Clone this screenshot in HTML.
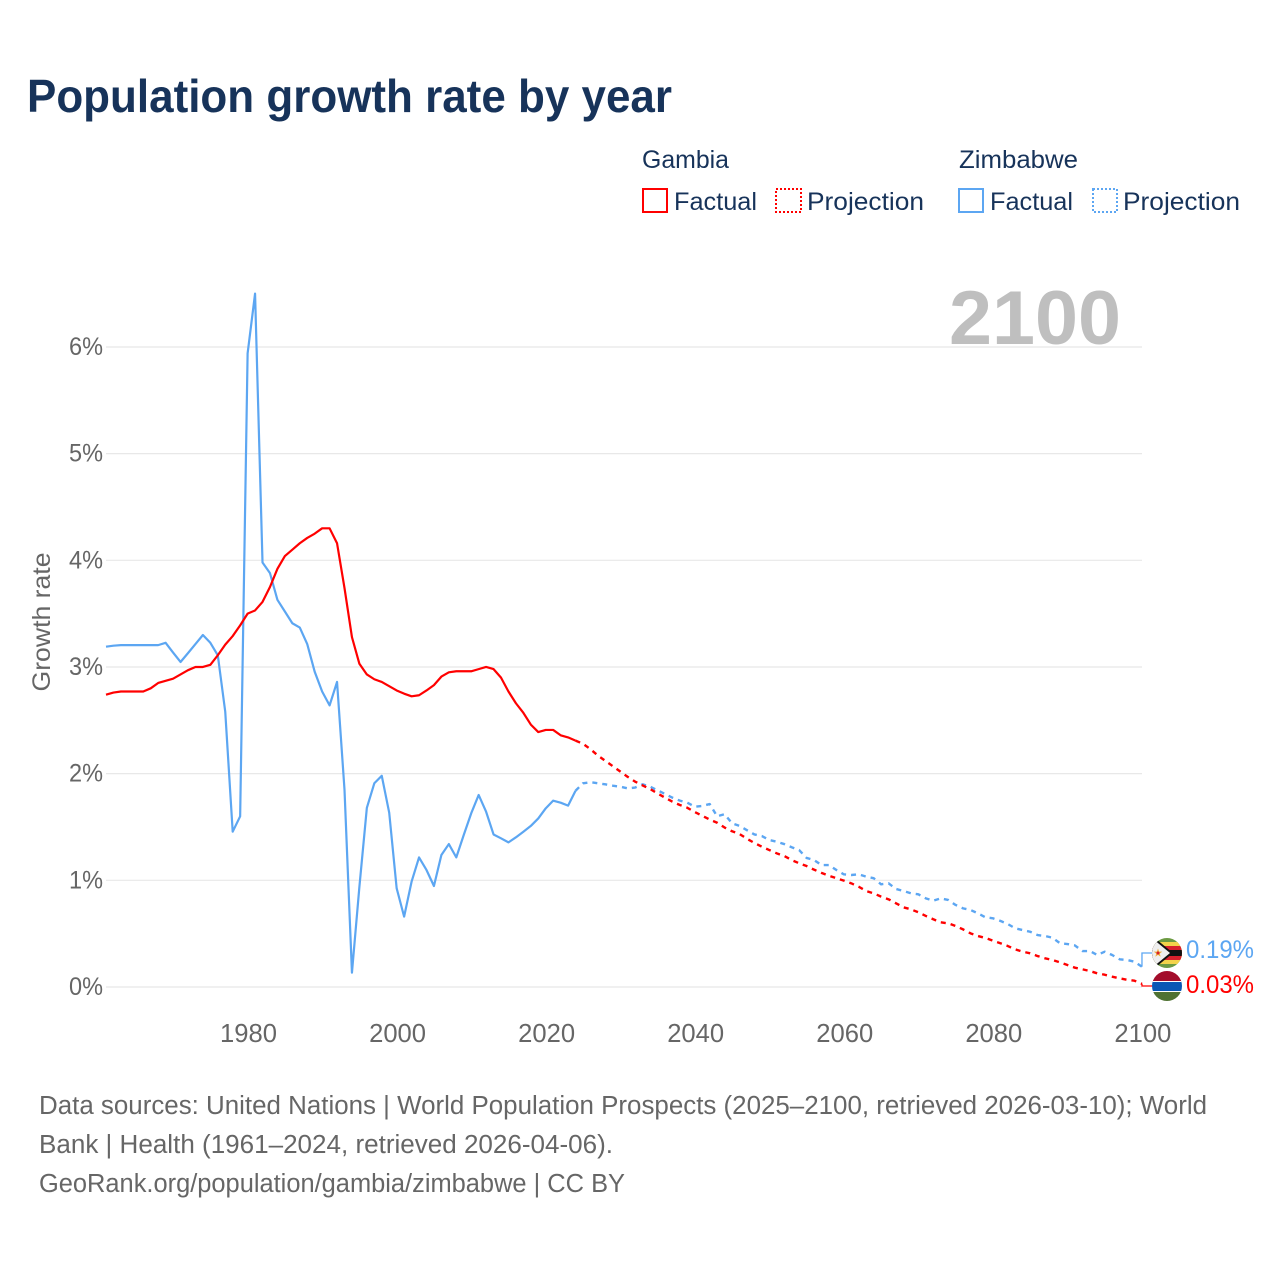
<!DOCTYPE html>
<html lang="en">
<head>
<meta charset="utf-8">
<title>Population growth rate by year</title>
<style>
html,body{margin:0;padding:0;background:#fff;width:1280px;height:1280px;overflow:hidden}
svg{display:block;font-family:"Liberation Sans",sans-serif}
</style>
</head>
<body>
<svg id="chart" width="1280" height="1280" viewBox="0 0 1280 1280" xmlns="http://www.w3.org/2000/svg">
<defs>
<clipPath id="clip-zw"><circle cx="1167" cy="953" r="15"/></clipPath>
<clipPath id="clip-gm"><circle cx="1167" cy="986" r="15"/></clipPath>
</defs>
<rect width="1280" height="1280" fill="#fff"/>
<text x="27" y="112" font-size="46" font-weight="700" fill="#17335a" textLength="645" lengthAdjust="spacingAndGlyphs">Population growth rate by year</text>

<g font-size="25" fill="#17335a">
<text x="642" y="168" textLength="87" lengthAdjust="spacingAndGlyphs">Gambia</text>
<text x="959" y="168" textLength="119" lengthAdjust="spacingAndGlyphs">Zimbabwe</text>
<rect x="643" y="189" width="24" height="23" fill="none" stroke="#ff0000" stroke-width="2"/>
<text x="674" y="210" textLength="83" lengthAdjust="spacingAndGlyphs">Factual</text>
<rect x="776" y="189" width="25" height="23" fill="none" stroke="#ff0000" stroke-width="2" stroke-dasharray="2 2"/>
<text x="807" y="210" textLength="117" lengthAdjust="spacingAndGlyphs">Projection</text>
<rect x="959" y="189" width="24" height="23" fill="none" stroke="#5ca6f2" stroke-width="2"/>
<text x="990" y="210" textLength="83" lengthAdjust="spacingAndGlyphs">Factual</text>
<rect x="1093" y="189" width="24" height="23" fill="none" stroke="#5ca6f2" stroke-width="2" stroke-dasharray="2 2"/>
<text x="1123" y="210" textLength="117" lengthAdjust="spacingAndGlyphs">Projection</text>
</g>

<g id="grid"></g>
<text x="949" y="344" font-size="76" font-weight="700" fill="#bfbfbf" textLength="172" lengthAdjust="spacingAndGlyphs">2100</text>
<g id="yticks"></g>
<g id="xticks"></g>
<text transform="translate(50,622) rotate(-90)" text-anchor="middle" font-size="25" fill="#666" textLength="139" lengthAdjust="spacingAndGlyphs">Growth rate</text>
<g id="series"></g>

<g clip-path="url(#clip-zw)">
<rect x="1152" y="938" width="30" height="30" fill="#6c9a42"/>
<rect x="1152" y="942" width="30" height="22" fill="#f3d34a"/>
<rect x="1152" y="946" width="30" height="14" fill="#d8202c"/>
<rect x="1152" y="950" width="30" height="6" fill="#111"/>
<polygon points="1150,934 1173,953 1150,972" fill="#111"/>
<polygon points="1150,936.5 1170,953 1150,969.5" fill="#efefef"/>
<polygon points="1158,948.5 1159.1,951.6 1162.3,951.6 1159.7,953.6 1160.7,956.8 1158,954.9 1155.3,956.8 1156.3,953.6 1153.7,951.6 1156.9,951.6" fill="#eeb13c"/>
<circle cx="1158" cy="953" r="1.5" fill="#d8202c"/>
</g>
<g clip-path="url(#clip-gm)">
<rect x="1152" y="971" width="30" height="11" fill="#a30d2b"/>
<rect x="1152" y="981" width="30" height="11" fill="#ffffff"/>
<rect x="1152" y="982" width="30" height="9" fill="#0a57b5"/>
<rect x="1152" y="992" width="30" height="9" fill="#4f7233"/>
</g>
<text id="label-zw" x="1186" y="958" font-size="25" fill="#5ca6f2" textLength="68" lengthAdjust="spacingAndGlyphs"></text>
<text id="label-gm" x="1186" y="993" font-size="25" fill="#ff0000" textLength="68" lengthAdjust="spacingAndGlyphs"></text>

<g font-size="25.5" fill="#666">
<text x="39" y="1114" textLength="1168" lengthAdjust="spacingAndGlyphs">Data sources: United Nations | World Population Prospects (2025–2100, retrieved 2026-03-10); World</text>
<text x="39" y="1153" textLength="574" lengthAdjust="spacingAndGlyphs">Bank | Health (1961–2024, retrieved 2026-04-06).</text>
<text x="39" y="1192" textLength="586" lengthAdjust="spacingAndGlyphs">GeoRank.org/population/gambia/zimbabwe | CC BY</text>
</g>
</svg>
<script>
const yTickValues = [0, 1, 2, 3, 4, 5, 6];
const xTickYears = [1980, 2000, 2020, 2040, 2060, 2080, 2100];
const factualStartYear = 1961;
const projectionStartYear = 2024;
const gambiaFactual = [2.74,2.76,2.77,2.77,2.77,2.77,2.80,2.85,2.87,2.89,2.93,2.97,3.00,3.00,3.02,3.11,3.21,3.29,3.39,3.50,3.53,3.61,3.75,3.92,4.04,4.10,4.16,4.21,4.25,4.30,4.30,4.16,3.74,3.28,3.03,2.93,2.885,2.86,2.82,2.78,2.75,2.725,2.735,2.78,2.83,2.91,2.95,2.96,2.96,2.96,2.98,3.00,2.98,2.90,2.77,2.66,2.57,2.46,2.39,2.41,2.41,2.36,2.34,2.31];
const gambiaProjection = [2.31,2.28,2.23,2.17,2.12,2.07,2.02,1.97,1.925,1.89,1.856,1.815,1.775,1.737,1.706,1.68,1.64,1.605,1.57,1.54,1.495,1.46,1.434,1.39,1.35,1.315,1.284,1.253,1.228,1.19,1.16,1.134,1.10,1.07,1.043,1.02,0.997,0.972,0.94,0.90,0.878,0.847,0.822,0.785,0.747,0.728,0.70,0.666,0.635,0.606,0.597,0.572,0.54,0.503,0.478,0.46,0.434,0.41,0.384,0.353,0.331,0.316,0.29,0.269,0.253,0.231,0.206,0.181,0.166,0.15,0.128,0.115,0.097,0.081,0.068,0.059,0.03];
const zimbabweFactual = [3.19,3.20,3.205,3.205,3.205,3.205,3.205,3.205,3.227,3.135,3.047,3.13,3.215,3.30,3.227,3.11,2.58,1.456,1.60,5.94,6.50,3.98,3.88,3.63,3.52,3.41,3.37,3.215,2.956,2.77,2.64,2.86,1.85,0.134,0.94,1.68,1.91,1.98,1.634,0.925,0.66,0.987,1.215,1.097,0.947,1.237,1.34,1.215,1.425,1.628,1.80,1.643,1.43,1.394,1.356,1.403,1.456,1.51,1.58,1.675,1.747,1.728,1.70,1.84];
const zimbabweProjection = [1.84,1.91,1.92,1.91,1.90,1.887,1.878,1.862,1.87,1.90,1.878,1.844,1.81,1.775,1.747,1.728,1.69,1.697,1.715,1.60,1.62,1.535,1.51,1.47,1.43,1.415,1.378,1.362,1.34,1.31,1.284,1.21,1.19,1.143,1.143,1.097,1.056,1.05,1.056,1.034,1.02,0.963,0.972,0.919,0.90,0.878,0.869,0.831,0.809,0.831,0.816,0.769,0.737,0.722,0.69,0.653,0.644,0.62,0.59,0.55,0.534,0.518,0.487,0.478,0.462,0.41,0.403,0.39,0.337,0.337,0.30,0.331,0.30,0.26,0.253,0.237,0.19];

const NS = 'http://www.w3.org/2000/svg';
const RED = '#ff0000';
const BLUE = '#5ca6f2';
function xScale(year) { return 106 + (year - 1961) * 7.453; }
function yScale(v) { return 987 - v * 106.67; }
function pathFrom(values, startYear) {
  return values.map(function (v, i) {
    return (i ? 'L' : 'M') + xScale(startYear + i).toFixed(2) + ' ' + yScale(v).toFixed(2);
  }).join(' ');
}
const grid = document.getElementById('grid');
const yticks = document.getElementById('yticks');
const xticks = document.getElementById('xticks');
const series = document.getElementById('series');

yTickValues.forEach(function (v) {
  const line = document.createElementNS(NS, 'line');
  
  
  line.setAttribute('x1', 106);
  line.setAttribute('x2', 1142);
  line.setAttribute('y1', yScale(v));
  line.setAttribute('y2', yScale(v));
  line.setAttribute('stroke', '#e8e8e8');
  line.setAttribute('stroke-width', 1.2);
  grid.appendChild(line);
  const t = document.createElementNS(NS, 'text');
  
  
  t.setAttribute('x', 69);
  t.setAttribute('y', yScale(v) + 8);
  t.setAttribute('font-size', 25);
  t.setAttribute('fill', '#666');
  t.setAttribute('textLength', 34);
  t.setAttribute('lengthAdjust', 'spacingAndGlyphs');
  t.textContent = v + '%';
  yticks.appendChild(t);
});
xTickYears.forEach(function (y) {
  const t = document.createElementNS(NS, 'text');
  
  
  t.setAttribute('x', xScale(y) + 0.9);
  t.setAttribute('y', 1042);
  t.setAttribute('font-size', 25.6);
  t.setAttribute('fill', '#666');
  t.setAttribute('text-anchor', 'middle');
  t.textContent = y;
  xticks.appendChild(t);
});
function addLine(values, startYear, color, dashed, name) {
  const p = document.createElementNS(NS, 'path');
  
  
  p.setAttribute('d', pathFrom(values, startYear));
  p.setAttribute('fill', 'none');
  p.setAttribute('stroke', color);
  p.setAttribute('stroke-width', dashed ? 2.4 : 2.2);
  p.setAttribute('stroke-linejoin', 'round');
  if (dashed) p.setAttribute('stroke-dasharray', '5 5');
  series.appendChild(p);
}
addLine(zimbabweFactual, factualStartYear, BLUE, false, 'zimbabwe-factual-line');
addLine(gambiaFactual, factualStartYear, RED, false, 'gambia-factual-line');
addLine(zimbabweProjection, projectionStartYear, BLUE, true, 'zimbabwe-projection-line');
addLine(gambiaProjection, projectionStartYear, RED, true, 'gambia-projection-line');

function addConnector(values, flagY, color, name) {
  const x = xScale(2100);
  const y = yScale(values[values.length - 1]);
  const p = document.createElementNS(NS, 'path');
  
  
  p.setAttribute('d', 'M' + x + ' ' + y + ' L' + x + ' ' + flagY + ' L1153 ' + flagY);
  p.setAttribute('fill', 'none');
  p.setAttribute('stroke', color);
  p.setAttribute('stroke-width', 1.3);
  series.appendChild(p);
}
addConnector(zimbabweProjection, 953, BLUE, 'zimbabwe-end-connector');
addConnector(gambiaProjection, 986, RED, 'gambia-end-connector');

document.getElementById('label-zw').textContent = zimbabweProjection[zimbabweProjection.length - 1].toFixed(2) + '%';
document.getElementById('label-gm').textContent = gambiaProjection[gambiaProjection.length - 1].toFixed(2) + '%';
</script>
</body>
</html>
